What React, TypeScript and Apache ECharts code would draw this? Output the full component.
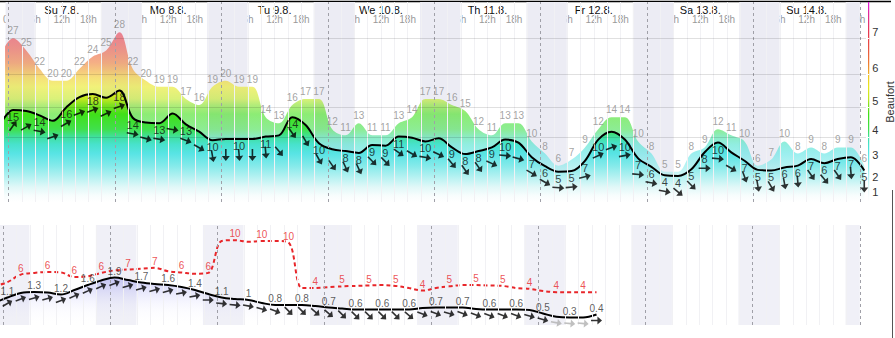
import React, { useEffect, useRef } from "react";
import * as echarts from "echarts";

const FONT = "Arial, 'Liberation Sans', sans-serif";

// ---------------- data ----------------
// time axis: hours since Su 7.8. 00:00; model steps every 3 h, first step Sa 6.8. 22:00
const firstStepHour = -2;
const stepHours = 3;

const dayNames = ["Su 7.8.", "Mo 8.8.", "Tu 9.8.", "We 10.8.", "Th 11.8.", "Fr 12.8.", "Sa 13.8.", "Su 14.8."];
const dayCenters = [12, 36, 60, 84, 108, 132, 156, 180];
const midnights = [0, 24, 48, 72, 96, 120, 144, 168, 192];
const hourTicks = [
  0, 6, 12, 18, 24, 30, 36, 42, 48, 54, 60, 66, 72, 78, 84, 90, 96, 102, 108, 114, 120, 126, 132, 138, 144, 150,
  156, 162, 168, 174, 180, 186, 192,
];

// wind speed (knots), gusts (knots), wind direction (degrees, from)
const windSpeed = [
  12.5, 15.2, 15.0, 14.3, 13.4, 15.6, 17.3, 17.8, 17.2, 18.4, 13.9, 13.1, 13.0, 14.6, 12.8, 11.6, 10.2, 10.4, 10.4,
  10.4, 10.8, 11.0, 14.0, 12.7, 9.7, 8.7, 8.4, 8.1, 9.4, 9.3, 10.8, 10.6, 10.0, 10.5, 9.0, 7.9, 8.4, 9.0, 10.3, 9.8,
  7.4, 5.9, 5.0, 5.1, 6.8, 10.3, 11.6, 10.3, 7.2, 5.8, 4.4, 4.3, 5.4, 8.2, 9.8, 8.2, 6.8, 5.3, 5.2, 5.7, 6.0, 7.1,
  6.4, 7.1, 7.4, 5.2,
];
const windGust = [
  24, 27, 25, 22, 20, 20, 22, 24, 25, 28, 22, 20, 19, 19, 17, 16, 19, 20, 19, 19, 14, 13, 16, 17, 17, 12, 11, 13, 11,
  11, 13, 14, 17, 17, 16, 15, 12, 11, 13, 13, 10, 8, 6, 7, 9, 12, 14, 14, 10, 8, 5, 5, 8, 9, 12, 11, 10, 6, 7, 10, 8,
  9, 8, 9, 9, 6,
];
const windDir = [
  215, 215, 240, 280, 250, 240, 250, 250, 245, 250, 280, 285, 280, 280, 290, 300, 350, 0, 355, 0, 355, 320, 325, 330,
  330, 325, 335, 335, 315, 315, 305, 300, 280, 295, 320, 325, 325, 295, 275, 285, 300, 300, 275, 265, 255, 245, 250,
  260, 275, 280, 280, 310, 315, 270, 275, 300, 340, 350, 330, 350, 355, 325, 320, 325, 355, 0,
];
// positions in the arrays above whose speed value is not printed
const speedLabelHidden = [0, 2, 4, 6, 8, 11, 13, 15, 17, 19, 21, 23, 25, 31, 33, 39, 46, 55];

// waves: height (m), period (s), direction (degrees, from)
const waveHeight = [
  0.88, 1.1, 1.28, 1.32, 1.3, 1.22, 1.4, 1.6, 1.78, 1.9, 1.8, 1.7, 1.64, 1.6, 1.52, 1.4, 1.24, 1.1, 1.04, 1.0, 0.88,
  0.8, 0.8, 0.8, 0.76, 0.7, 0.66, 0.62, 0.62, 0.62, 0.62, 0.62, 0.68, 0.7, 0.7, 0.7, 0.64, 0.62, 0.62, 0.62, 0.6,
  0.46, 0.33, 0.3, 0.3, 0.42,
];
const wavePeriod = [
  4.6, 5.1, 6.0, 6.2, 6.3, 6.25, 5.7, 5.8, 6.2, 6.5, 6.6, 6.7, 6.8, 6.4, 6.25, 6.1, 6.2, 10.0, 10.1, 9.9, 10.0, 10.0,
  9.8, 4.4, 4.4, 4.5, 4.6, 4.65, 4.7, 4.75, 4.65, 4.4, 4.1, 4.4, 4.6, 4.75, 4.75, 4.7, 4.65, 4.4, 4.3, 4.05, 3.9, 3.9,
  3.9, 3.9,
];
const waveDir = [
  245, 240, 250, 255, 255, 250, 245, 245, 245, 250, 255, 255, 255, 255, 260, 260, 270, 275, 275, 280, 285, 290, 315,
  315, 310, 310, 315, 315, 315, 315, 315, 310, 290, 290, 285, 290, 290, 290, 290, 290, 285, 285, 280, 275, 275, 270,
];

// Beaufort scale: lower limits of forces 1..7 in knots, top of scale
const bftLower = [0.6, 3.1, 6.6, 10.7, 15.6, 21.0, 27.0];
const bftNames = ["1", "2", "3", "4", "5", "6", "7"];
const bftTop = 33;

// ---------------- layout / style ----------------
const PX_PER_H = 107.1 / 24;
const PLOT_W = 866;
const X_MIN = -3 / PX_PER_H;
const X_MAX = X_MIN + PLOT_W / PX_PER_H;
const TOP = { left: 0, top: 2, width: PLOT_W, height: 200 };
const BAR = { left: 868, top: 2, width: 5, height: 200 };
const BOT = { left: 0, top: 225, width: PLOT_W, height: 100 };

const bftColors: [number, string][] = [
  [33, "#e020e0"],
  [31, "#e02898"],
  [28.5, "#e83858"],
  [27, "#e84048"],
  [25, "#ea5840"],
  [23, "#ee7a34"],
  [21.5, "#f0a828"],
  [20.5, "#f0cc20"],
  [19, "#e8e820"],
  [17, "#c0e820"],
  [16, "#80e020"],
  [14.5, "#40e018"],
  [12, "#40e04c"],
  [10.7, "#40e0a0"],
  [9.5, "#48e2cc"],
  [8, "#58e4e4"],
  [6, "#84eaea"],
  [4, "#b8f2f2"],
  [2.5, "#e0f8f8"],
  [1, "#f8fdfd"],
  [0, "#ffffff"],
];
const bftStops = bftColors.map(([kt, c]) => ({ offset: 1 - kt / bftTop, color: c }));

const ARROW = "path://M0,4.2L7,4.2L7,1L12,5L7,9L7,5.8L0,5.8Z";

const tAt = (k: number) => firstStepHour + stepHours * k;
const rot = (from: number) => {
  let r = -90 - from;
  while (r <= -180) r += 360;
  return r;
};

function buildOption(): any {
  const globalGrad = () =>
    new echarts.graphic.LinearGradient(0, TOP.top, 0, TOP.top + TOP.height, bftStops, true);

  const nightBands = midnights.map((m) => [
    { xAxis: Math.max(X_MIN, m - 3.2) },
    { xAxis: Math.min(192, m + 5.9) },
  ]);
  const thinLines: any[] = [];
  for (let h = 3; h < 192; h += 3) if (h % 24 !== 0) thinLines.push({ xAxis: h });
  const dayLines = midnights.map((m) => ({ xAxis: m }));

  const backdrop = (xi: number, yi: number, color: string) => ({
    type: "line",
    xAxisIndex: xi,
    yAxisIndex: yi,
    data: [[X_MIN, 0]],
    symbol: "none",
    lineStyle: { opacity: 0 },
    silent: true,
    z: 0,
    markArea: { silent: true, itemStyle: { color }, data: nightBands },
    markLine: {
      silent: true,
      symbol: ["none", "none"],
      label: { show: false },
      data: [
        ...thinLines.map((d) => ({ ...d, lineStyle: { color: "#f1f1f4", width: 1, type: "solid" } })),
        ...dayLines.map((d) => ({ ...d, lineStyle: { color: "#a0a0a8", width: 1, type: [3, 3] } })),
      ],
    },
  });

  const labelSeries = (
    xi: number,
    yi: number,
    data: any[],
    position: string,
    distance: number,
    color: string,
    fontSize: number
  ) => ({
    type: "scatter",
    xAxisIndex: xi,
    yAxisIndex: yi,
    symbol: "circle",
    symbolSize: 1,
    itemStyle: { color: "rgba(0,0,0,0)" },
    silent: true,
    z: 6,
    label: {
      show: true,
      position,
      distance,
      color,
      fontSize,
      lineHeight: fontSize,
      fontFamily: FONT,
      formatter: (p: any) => p.value[2],
    },
    data,
  });

  const gustLabels = windGust.map((g, k) => [tAt(k), g, String(g)]);
  const speedLabels = windSpeed
    .map((v, k) => (speedLabelHidden.includes(k) ? null : [tAt(k), v, String(Math.round(v))]))
    .filter((d) => d !== null);
  const waveLabels = waveHeight
    .map((v, k) => (k >= 1 && (k - 1) % 2 === 0 ? [tAt(k), v, String(Number(v.toFixed(1)))] : null))
    .filter((d) => d !== null);
  const periodLabels = wavePeriod
    .map((v, k) => (k >= 2 && (k - 1) % 2 === 1 ? [tAt(k), v, String(Math.round(v))] : null))
    .filter((d) => d !== null);

  return {
    animation: false,
    backgroundColor: "#ffffff",
    textStyle: { fontFamily: FONT },
    grid: [
      { ...TOP, containLabel: false },
      { ...BAR, containLabel: false },
      { ...BOT, containLabel: false },
    ],
    xAxis: [
      {
        gridIndex: 0,
        type: "value",
        min: X_MIN,
        max: X_MAX,
        position: "top",
        axisLine: { show: false },
        axisTick: { show: false },
        splitLine: { show: false },
        axisLabel: {
          inside: true,
          margin: 13,
          customValues: hourTicks,
          formatter: (v: number) => `${Math.round(v) % 24}h`,
          color: "#9a9a9a",
          fontSize: 10,
          lineHeight: 9,
          fontFamily: FONT,
        },
      },
      {
        gridIndex: 0,
        type: "value",
        min: X_MIN,
        max: X_MAX,
        position: "top",
        axisLine: { show: false },
        axisTick: { show: false },
        splitLine: { show: false },
        axisLabel: {
          inside: true,
          margin: 2.5,
          customValues: dayCenters,
          formatter: (v: number) => dayNames[dayCenters.indexOf(Math.round(v))] ?? "",
          color: "#111",
          fontSize: 11,
          lineHeight: 10,
          fontFamily: FONT,
        },
      },
      { gridIndex: 1, type: "category", data: ["Bft"], show: false },
      { gridIndex: 2, type: "value", min: X_MIN, max: X_MAX, show: false },
    ],
    yAxis: [
      { gridIndex: 0, type: "value", min: 0, max: bftTop, show: false },
      {
        gridIndex: 1,
        type: "value",
        min: 0,
        max: bftTop,
        position: "right",
        axisLine: { show: false },
        axisTick: { show: false },
        splitLine: { show: false },
        axisLabel: {
          customValues: bftLower.map((v) => v + 1.1),
          formatter: (v: number) => {
            const i = bftLower.findIndex((b) => Math.abs(b + 1.1 - v) < 0.01);
            return i >= 0 ? bftNames[i] : "";
          },
          margin: 3,
          color: "#333",
          fontSize: 11,
          fontFamily: FONT,
        },
        name: "Beaufort",
        nameLocation: "middle",
        nameRotate: 90,
        nameGap: 15,
        nameTextStyle: { color: "#333", fontSize: 11, fontFamily: FONT },
      },
      { gridIndex: 2, type: "value", min: 0, max: 4, show: false },
      { gridIndex: 2, type: "value", min: 0, max: 11.9, show: false },
    ],
    series: [
      // ---- top: wind ----
      backdrop(0, 0, "#ececf4"),
      {
        name: "Gusts",
        type: "line",
        xAxisIndex: 0,
        yAxisIndex: 0,
        smooth: 0.35,
        symbol: "none",
        lineStyle: { width: 0, opacity: 0 },
        areaStyle: { color: globalGrad(), opacity: 0.6 },
        data: windGust.map((g, k) => [tAt(k), g]),
        z: 1,
      },
      {
        name: "Wind speed",
        type: "line",
        xAxisIndex: 0,
        yAxisIndex: 0,
        smooth: 0.35,
        symbol: "none",
        lineStyle: { color: "#000", width: 2 },
        areaStyle: { color: globalGrad(), opacity: 1 },
        data: windSpeed.map((v, k) => [tAt(k), v]),
        z: 2,
      },
      {
        type: "line",
        xAxisIndex: 0,
        yAxisIndex: 0,
        data: [[X_MIN, 0]],
        symbol: "none",
        lineStyle: { opacity: 0 },
        silent: true,
        z: 3,
        markLine: {
          silent: true,
          symbol: ["none", "none"],
          label: { show: false },
          lineStyle: { color: "rgba(0,0,0,0.12)", width: 1, type: "solid" },
          data: bftLower.filter((b) => b > 10).map((b) => ({ yAxis: b })),
        },
      },
      labelSeries(0, 0, gustLabels, "top", 2, "#8c8c8c", 10),
      labelSeries(0, 0, speedLabels, "bottom", 1, "#111", 11),
      {
        name: "Wind direction",
        type: "scatter",
        xAxisIndex: 0,
        yAxisIndex: 0,
        symbol: ARROW,
        symbolSize: [12, 8],
        symbolOffset: [0, 16],
        itemStyle: { color: "#000" },
        silent: true,
        z: 5,
        data: windSpeed.map((v, k) => ({ value: [tAt(k), v], symbolRotate: rot(windDir[k]) })),
      },
      // ---- colour bar ----
      {
        type: "bar",
        xAxisIndex: 2,
        yAxisIndex: 1,
        barWidth: "100%",
        silent: true,
        itemStyle: { color: new echarts.graphic.LinearGradient(0, 0, 0, 1, bftStops) },
        data: [bftTop],
        markLine: {
          silent: true,
          symbol: ["none", "none"],
          label: { show: false },
          lineStyle: { color: "#fff", width: 1, type: "solid" },
          data: bftLower.filter((b) => b > 10).map((b) => ({ yAxis: b })),
        },
      },
      // ---- bottom: waves ----
      backdrop(3, 2, "#f0f0f7"),
      {
        name: "Wave height",
        type: "line",
        xAxisIndex: 3,
        yAxisIndex: 2,
        smooth: 0.35,
        symbol: "none",
        lineStyle: { color: "#000", width: 2 },
        areaStyle: {
          color: new echarts.graphic.LinearGradient(0, 0, 0, 1, [
            { offset: 0, color: "rgba(110,110,235,0.5)" },
            { offset: 0.55, color: "rgba(190,190,250,0.18)" },
            { offset: 1, color: "rgba(255,255,255,0)" },
          ]),
        },
        data: waveHeight.map((v, k) => [tAt(k), v]),
        z: 2,
      },
      {
        name: "Wave period",
        type: "line",
        xAxisIndex: 3,
        yAxisIndex: 3,
        smooth: 0.35,
        symbol: "none",
        lineStyle: { color: "#e8262a", width: 2, type: [4, 3] },
        data: wavePeriod.map((v, k) => [tAt(k), v]),
        z: 3,
      },
      labelSeries(3, 2, waveLabels, "top", 1, "#333", 10),
      labelSeries(3, 3, periodLabels, "top", 1, "#e8262a", 10),
      {
        name: "Wave direction",
        type: "scatter",
        xAxisIndex: 3,
        yAxisIndex: 2,
        symbol: ARROW,
        symbolSize: [11, 8],
        symbolOffset: [0, 6],
        silent: true,
        z: 5,
        data: waveHeight.map((v, k) => ({
          value: [tAt(k), v],
          symbolRotate: rot(waveDir[k]),
          itemStyle: { color: v < 0.35 ? "#b0b0b0" : "#000" },
        })),
      },
    ],
    graphic: [
      { type: "line", silent: true, shape: { x1: 0, y1: 1.5, x2: 891, y2: 1.5 }, style: { stroke: "#000", lineWidth: 1.5 } },
      { type: "line", silent: true, shape: { x1: 892.5, y1: 190, x2: 892.5, y2: 338 }, style: { stroke: "#555", lineWidth: 1 } },
    ],
  };
}

export default function App() {
  const ref = useRef<HTMLDivElement>(null);
  useEffect(() => {
    if (!ref.current) return;
    const chart = echarts.init(ref.current, null, { renderer: "svg" });
    chart.setOption(buildOption());
    return () => chart.dispose();
  }, []);
  return <div ref={ref} style={{ position: "absolute", left: 0, top: 0, width: 895, height: 338 }} />;
}
